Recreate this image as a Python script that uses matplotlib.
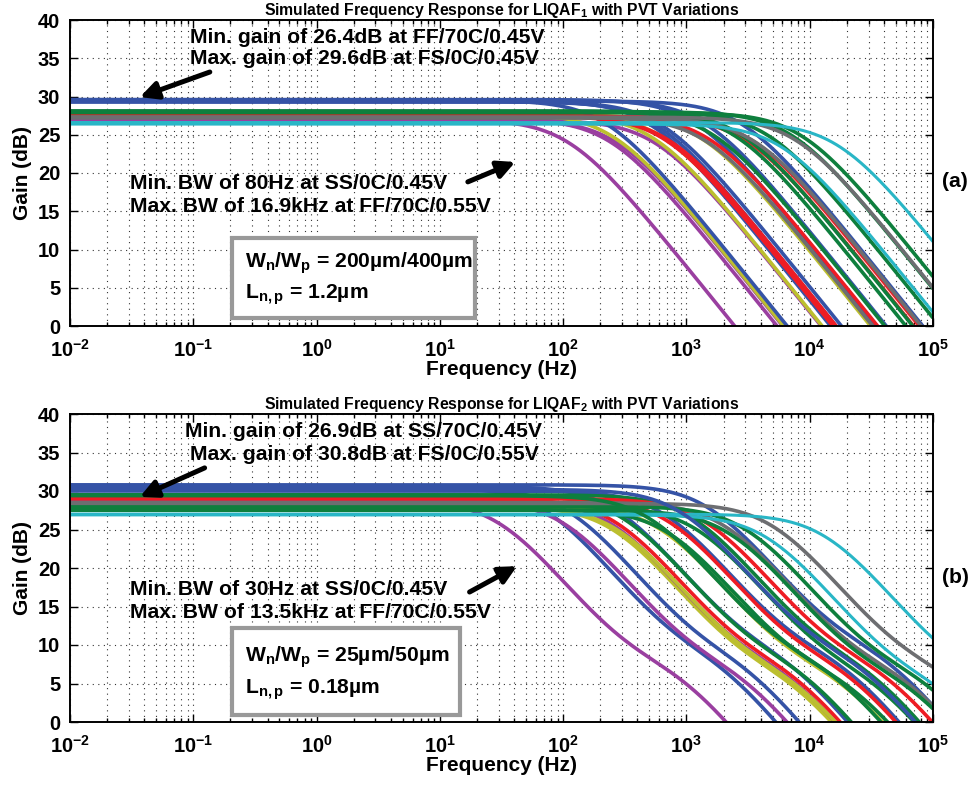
import numpy as np
import matplotlib
matplotlib.use("Agg")
import matplotlib.pyplot as plt
from matplotlib.patches import Rectangle
from matplotlib import font_manager

plt.rcParams['font.family'] = ['Liberation Sans', 'DejaVu Sans']
plt.rcParams['font.weight'] = 'bold'
plt.rcParams['mathtext.fontset'] = 'custom'
plt.rcParams['mathtext.bf'] = 'Liberation Sans:bold'
plt.rcParams['mathtext.rm'] = 'Liberation Sans:bold'
plt.rcParams['mathtext.it'] = 'Liberation Sans:bold'
plt.rcParams['mathtext.default'] = 'bf'

_names = {f.name for f in font_manager.fontManager.ttflist}
if 'Liberation Sans Narrow' in _names:
    TITLE_FAM, TITLE_SIZE = ['Liberation Sans Narrow', 'Liberation Sans'], 13.5
else:
    TITLE_FAM, TITLE_SIZE = ['Liberation Sans', 'DejaVu Sans'], 11.3

BLUE, GREEN, RED, YEL, PUR, GRAY, CYAN = ('#3553a6', '#0e7f3d', '#ee1c24', '#bcbf2f',
                                          '#9a3fa0', '#6d6e71', '#29b6c6')

# ---------------- Panel (a): DC gain (dB), bandwidth (Hz) per PVT corner
a_colors = [PUR, PUR, PUR, PUR,
            YEL, YEL, YEL, YEL,
            BLUE, BLUE, BLUE, BLUE, BLUE, BLUE, BLUE,
            RED, RED, RED, RED, RED,
            GREEN, GREEN, GREEN, GREEN, GREEN, GREEN,
            GRAY, GRAY, GRAY,
            CYAN, CYAN]
a_gain = [27.0, 27.1, 27.0, 26.9,
          27.8, 27.7, 27.6, 27.8,
          29.5, 29.4, 29.3, 29.6, 29.5, 29.4, 29.3,
          27.5, 27.4, 27.5, 27.3, 27.4,
          28.0, 28.1, 28.0, 27.9, 28.0, 28.1,
          27.3, 27.2, 27.3,
          26.6, 26.4]
a_bw = [110, 240, 270, 560,
        250, 520, 1300, 620,
        220, 500, 560, 1150, 1400, 2800, 620,
        650, 700, 1500, 3000, 3300,
        2400, 2700, 4500, 8500, 7000, 1600,
        7700, 3500, 1400,
        16900, 5900]

# ---------------- Panel (b): DC gain (dB), first pole, zero, second pole (Hz)
b_colors = [PUR, BLUE, PUR, BLUE, YEL, PUR, BLUE, RED, GREEN, YEL,
            BLUE, RED, YEL, GREEN, GREEN, GREEN, RED, BLUE, GRAY, GREEN,
            GREEN, GRAY, CYAN, CYAN, BLUE, GREEN]
b_gain = [28.8, 30.5, 28.8, 30.3, 28.0, 28.8, 30.6, 29.0, 29.5, 28.0,
          30.0, 29.1, 28.1, 27.6, 28.0, 29.5, 29.0, 30.8, 28.5, 27.5,
          28.0, 28.4, 27.0, 26.9, 30.2, 29.4]
b_p1 = [30, 70, 100, 110, 250, 240, 260, 260, 300, 270,
        650, 700, 600, 700, 1200, 1100, 1400, 1500, 2000, 2200,
        3000, 5000, 13500, 4500, 900, 500]
b_zero = [330, 800, 1100, 1250, 2700, 2600, 2900, 2800, 3300, 2900,
          7000, 7500, 6500, 7500, 13000, 12000, 15000, 16000, 22000, 24000,
          33000, 55000, 150000, 50000, 10000, 5500]
b_p2 = [900, 1900, 2800, 3000, 7000, 6800, 7000, 7200, 8500, 7500,
        19000, 20000, 18000, 21000, 33000, 30000, 40000, 42000, 60000, 65000,
        90000, 150000, 400000, 130000, 26000, 15000]

freq = np.logspace(-2, 5, 600)


def mag_db(g0, p1, z=None, p2=None):
    h = 1.0 / (1 + 1j * freq / p1)
    if z is not None:
        h = h * (1 + 1j * freq / z)
    if p2 is not None:
        h = h / (1 + 1j * freq / p2)
    return g0 + 20 * np.log10(np.abs(h))


fig = plt.figure(figsize=(9.72, 8.07), dpi=100)
ax_a = fig.add_axes([70 / 972, 1 - 326 / 807, 863 / 972, 306 / 807])
ax_b = fig.add_axes([70 / 972, 1 - 722 / 807, 863 / 972, 308 / 807])

for c, g, bw in zip(a_colors, a_gain, a_bw):
    ax_a.plot(freq, mag_db(g, bw), color=c, lw=2.6 if c != CYAN else 2.2,
              solid_capstyle='butt')
for c, g, p1, z, p2 in zip(b_colors, b_gain, b_p1, b_zero, b_p2):
    ax_b.plot(freq, mag_db(g, p1, z, p2), color=c, lw=2.6 if c != CYAN else 2.2,
              solid_capstyle='butt')

titles = [r'Simulated Frequency Response for LIQAF$_{1}$ with PVT Variations',
          r'Simulated Frequency Response for LIQAF$_{2}$ with PVT Variations']

for ax, t in zip([ax_a, ax_b], titles):
    ax.set_xscale('log')
    ax.set_xlim(1e-2, 1e5)
    ax.set_ylim(0, 40)
    ax.set_yticks(np.arange(0, 41, 5))
    ax.set_xticks([1e-2, 1e-1, 1e0, 1e1, 1e2, 1e3, 1e4, 1e5])
    ax.set_xticklabels([r'$10^{-2}$', r'$10^{-1}$', r'$10^{0}$', r'$10^{1}$',
                        r'$10^{2}$', r'$10^{3}$', r'$10^{4}$', r'$10^{5}$'])
    ax.tick_params(which='both', direction='in', top=True, right=True,
                   labelsize=14.5, width=1.0)
    ax.tick_params(axis='y', pad=7)
    ax.tick_params(axis='x', pad=9)
    ax.tick_params(which='major', length=6)
    ax.tick_params(which='minor', length=3)
    for lab in ax.get_yticklabels():
        lab.set_fontweight('bold')
    ax.grid(True, which='major', axis='both', color='#333333', lw=0.8,
            linestyle=(0, (1, 4)))
    ax.grid(True, which='minor', axis='x', color='#333333', lw=0.8,
            linestyle=(0, (1, 4)))
    for s in ax.spines.values():
        s.set_linewidth(1.4)
    ax.set_ylabel('Gain (dB)', fontsize=15, fontweight='bold', labelpad=4)
    ax.set_xlabel('Frequency (Hz)', fontsize=15, fontweight='bold', labelpad=0)
    ax.set_title(t, fontsize=TITLE_SIZE, fontweight='bold', pad=3, family=TITLE_FAM)
    ax.set_axisbelow(True)

FS = 15.2
arrow_kw = dict(arrowstyle='-|>', lw=3.6, color='k', mutation_scale=26,
                shrinkA=0, shrinkB=0)


def note(ax, x, y, s, ha='left', z=5):
    ax.text(x, y, s, transform=ax.transAxes, fontsize=FS, fontweight='bold',
            va='center', ha=ha, zorder=z)


# Panel (a) annotations
note(ax_a, 0.139, 0.944, 'Min. gain of 26.4dB at FF/70C/0.45V')
note(ax_a, 0.139, 0.873, 'Max. gain of 29.6dB at FS/0C/0.45V')
ax_a.annotate('', xy=(0.081, 0.748), xytext=(0.162, 0.830), xycoords='axes fraction',
              textcoords='axes fraction', arrowprops=arrow_kw)
note(ax_a, 0.0695, 0.467, 'Min. BW of 80Hz at SS/0C/0.45V')
note(ax_a, 0.0695, 0.392, 'Max. BW of 16.9kHz at FF/70C/0.55V')
ax_a.annotate('', xy=(0.516, 0.536), xytext=(0.461, 0.471), xycoords='axes fraction',
              textcoords='axes fraction', arrowprops=arrow_kw)
note(ax_a, 1.0255, 0.471, '(a)', ha='center')
ax_a.add_patch(Rectangle((0.188, 0.026), 0.281, 0.262, transform=ax_a.transAxes,
                         fill=True, facecolor='white', edgecolor='#999999', lw=3, zorder=3))
note(ax_a, 0.203, 0.206, r'W$_{n}$/W$_{p}$ = 200µm/400µm')
note(ax_a, 0.203, 0.101, r'L$_{n,p}$ = 1.2µm')

# Panel (b) annotations
note(ax_b, 0.133, 0.942, 'Min. gain of 26.9dB at SS/70C/0.45V')
note(ax_b, 0.139, 0.867, 'Max. gain of 30.8dB at FS/0C/0.55V')
ax_b.annotate('', xy=(0.081, 0.731), xytext=(0.156, 0.825), xycoords='axes fraction',
              textcoords='axes fraction', arrowprops=arrow_kw)
note(ax_b, 0.0695, 0.429, 'Min. BW of 30Hz at SS/0C/0.45V')
note(ax_b, 0.0695, 0.357, 'Max. BW of 13.5kHz at FF/70C/0.55V')
ax_b.annotate('', xy=(0.518, 0.506), xytext=(0.463, 0.422), xycoords='axes fraction',
              textcoords='axes fraction', arrowprops=arrow_kw)
note(ax_b, 1.0255, 0.468, '(b)', ha='center')
ax_b.add_patch(Rectangle((0.188, 0.023), 0.264, 0.282, transform=ax_b.transAxes,
                         fill=True, facecolor='white', edgecolor='#999999', lw=3, zorder=3))
note(ax_b, 0.203, 0.211, r'W$_{n}$/W$_{p}$ = 25µm/50µm')
note(ax_b, 0.203, 0.104, r'L$_{n,p}$ = 0.18µm')

fig.savefig('out.png', dpi=100, facecolor='white')
